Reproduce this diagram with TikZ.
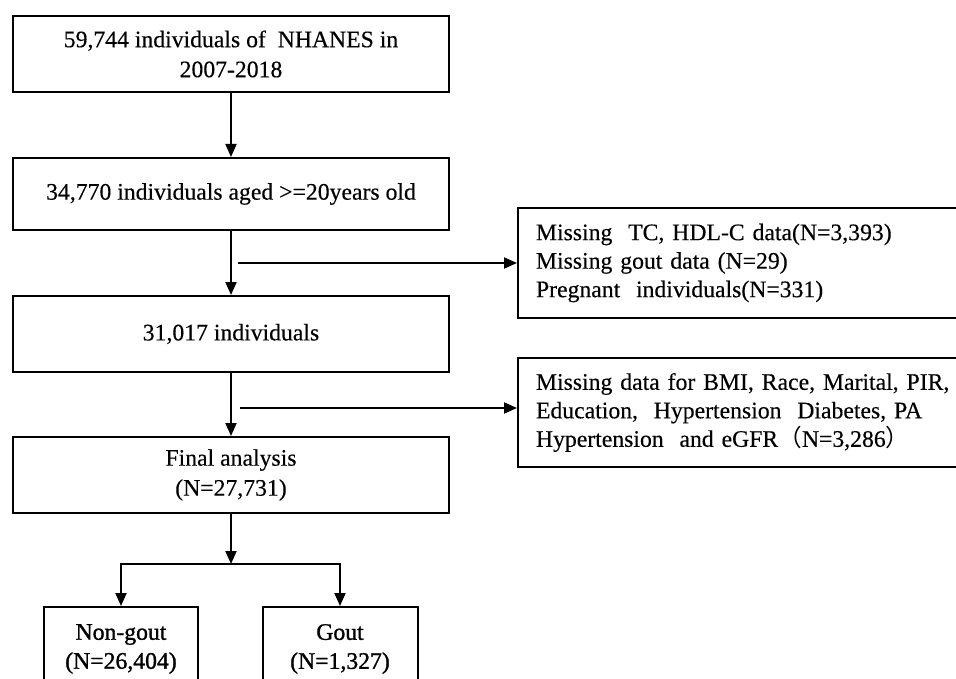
\documentclass[tikz,border=0pt]{standalone}
\usepackage{fontspec}
\setmainfont{Liberation Serif}[FakeBold=0.3]
\newfontfamily\heavy{Liberation Serif}[FakeBold=1.2]
\newfontfamily\cjk{Noto Sans CJK SC}
\usetikzlibrary{arrows.meta}
\begin{document}
\begin{tikzpicture}[x=1pt,y=-1pt,
  box/.style={draw,line width=2pt,inner sep=0pt,align=center,
    font=\fontsize{23.7}{30}\selectfont},
  sidebox/.style={draw,line width=2pt,inner ysep=0pt,inner xsep=18pt,align=left,
    anchor=north west,text width=450pt,font=\fontsize{23.7}{28.5}\selectfont},
  arr/.style={line width=2pt,-{Triangle[length=13pt,width=11pt]}},
  ln/.style={line width=2pt}]
\useasboundingbox (0,0) rectangle (956,679);
\clip (0,0) rectangle (956,679);
\fill[white] (0,0) rectangle (956,679);
\node[box,minimum width=436pt,minimum height=76pt] (b1) at (231,54)
  {59,744 individuals of~~NHANES in\\2007-2018};
\node[box,minimum width=436pt,minimum height=72pt] (b2) at (231,194)
  {34,770 individuals aged >=20years old};
\node[box,minimum width=436pt,minimum height=76pt] (b3) at (231,334)
  {31,017 individuals};
\node[box,minimum width=436pt,minimum height=76pt] (b4) at (231,475)
  {Final analysis\\(N=27,731)};
\node[box,minimum width=154pt,minimum height=84pt,anchor=north,
  font=\heavy\fontsize{23.7}{29}\selectfont] (b5) at (121,606)
  {Non-gout\\(N=26,404)};
\node[box,minimum width=155pt,minimum height=84pt,anchor=north,
  font=\heavy\fontsize{23.7}{29}\selectfont] (b6) at (340,606)
  {Gout\\(N=1,327)};
\node[sidebox,minimum height=110pt] (r1) at (517,207)
  {Missing~~TC, HDL-C data(N=3,393)\\Missing gout data (N=29)\\Pregnant~~individuals(N=331)};
\node[sidebox,minimum height=109pt] (r2) at (517,357)
  {Missing data for BMI, Race, Marital, PIR,\\Education,~~Hypertension~~Diabetes, PA\\Hypertension~~and eGFR{\cjk （}N=3,286{\cjk ）}};
\coordinate (s1) at (238,263);
\coordinate (s2) at (240,408);
\coordinate (j) at (231,564);
\draw[arr] (b1) -- (b2);
\draw[arr] (b2) -- (b3);
\draw[arr] (b3) -- (b4);
\draw[arr] (s1) -- (s1 -| r1.west);
\draw[arr] (s2) -- (s2 -| r2.west);
\draw[arr] (b4) -- (j);
\draw[arr] (j) -| (b5.north);
\draw[arr] (j) -| (b6.north);
\end{tikzpicture}
\end{document}
